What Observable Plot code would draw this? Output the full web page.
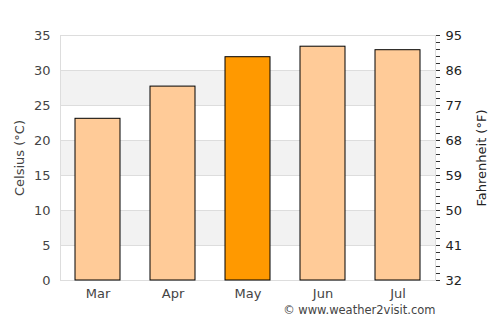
<!DOCTYPE html>
<html><head><meta charset="utf-8">
<script src="https://cdn.jsdelivr.net/npm/d3@7"></script>
<script src="https://cdn.jsdelivr.net/npm/@observablehq/plot@0.6"></script>
<style>body{margin:0;background:#fff;} svg{display:block;}</style>
</head><body><div id="chart"></div>
<script>
const months = ["Mar", "Apr", "May", "Jun", "Jul"];
const celsius = [23.1, 27.7, 31.9, 33.4, 32.9];
const highlightMonth = "May";
const celsiusTicks = [0, 5, 10, 15, 20, 25, 30, 35];
const fahrenheitLabels = [32, 41, 50, 59, 68, 77, 86, 95];
const minorTicks = d3.range(0, 36);
const bandLow = [5, 15, 25];
const bandHigh = [10, 20, 30];
const footer = "© www.weather2visit.com";

const data = months.map((m, i) => ({month: m, c: celsius[i]}));
const bands = bandLow.map((lo, i) => ({lo, hi: bandHigh[i]}));

const chart = Plot.plot({
  width: 500, height: 325,
  marginLeft: 60, marginRight: 65, marginTop: 35, marginBottom: 45,
  style: {fontFamily: "DejaVu Sans", fontSize: "13px", color: "#444", background: "#fff"},
  x: {domain: months, paddingInner: 0.4, paddingOuter: 0.2, align: 0.5, label: null},
  y: {domain: [0, 35], label: null},
  marks: [
    Plot.rect(bands, {y1: "lo", y2: "hi", fill: "#f2f2f2"}),
    Plot.ruleY(celsiusTicks, {stroke: "#dddddd", strokeWidth: 1}),
    Plot.frame({stroke: "#dddddd", anchor: "left"}),
    Plot.frame({stroke: "#dddddd", anchor: "right"}),
    Plot.barY(data, {x: "month", y: "c", fill: d => d.month === highlightMonth ? "#ff9900" : "#ffcb98", stroke: "#000", strokeWidth: 1}),
    Plot.axisY({anchor: "left", ticks: celsiusTicks, tickSize: 0, tickPadding: 10, fontSize: 13, label: "Celsius (°C)", labelAnchor: "center", labelArrow: "none", labelOffset: 46}),
    Plot.axisY({anchor: "right", ticks: minorTicks, tickFormat: () => "", tickSize: 4, stroke: "#333", label: null}),
    Plot.axisY({anchor: "right", ticks: celsiusTicks, tickSize: 0, tickPadding: 10, fontSize: 13, fill: "#222", tickFormat: (d) => fahrenheitLabels[celsiusTicks.indexOf(d)], label: "Fahrenheit (°F)", labelAnchor: "center", labelArrow: "none", labelOffset: 50}),
    Plot.axisX({tickSize: 0, tickPadding: 8, fontSize: 13, label: null}),
    Plot.text([footer], {text: d => d, frameAnchor: "bottom-right", dy: 33, dx: 0, fontSize: 11.5, fill: "#444", textAnchor: "end"})
  ]
});
document.getElementById("chart").appendChild(chart);
</script>
</body></html>
